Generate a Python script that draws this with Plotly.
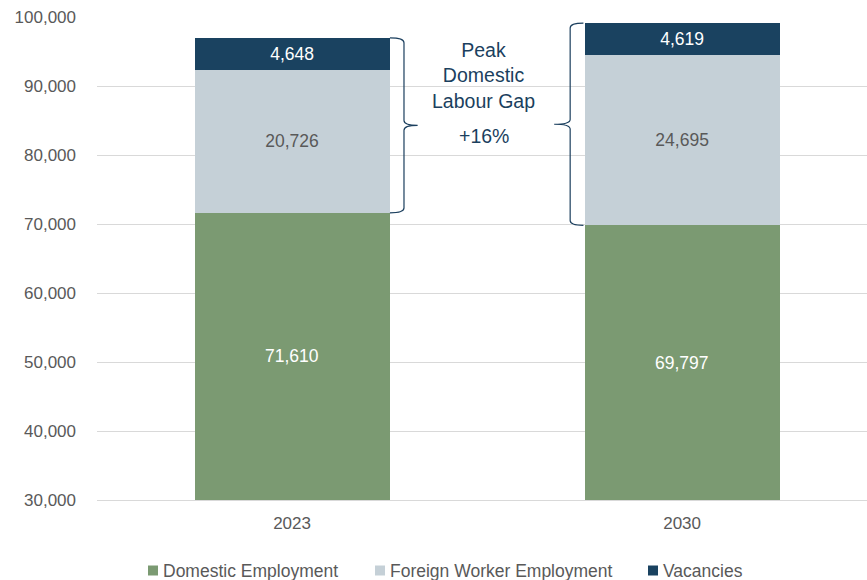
import plotly.graph_objects as go

# Workforce composition by year
years = ["2023", "2030"]
domestic = [71610, 69797]
foreign = [20726, 24695]
vacancies = [4648, 4619]
series_names = ["Domestic Employment", "Foreign Worker Employment", "Vacancies"]
gap_label = "Peak<br>Domestic<br>Labour Gap"
growth_label = "+16%"

y_min, y_max = 30000, 100000
y_ticks = [30000, 40000, 50000, 60000, 70000, 80000, 90000, 100000]

GREEN = "#7b9a72"
LIGHT = "#c5d0d7"
NAVY = "#1a4260"
TEXT_NAVY = "#1b3f5e"
GREY = "#595959"
FONT = "Liberation Sans, Arial, sans-serif"

W, H = 867, 580
ML, MR, MT, MB = 97, 0, 17, 80
PW, PH = W - ML - MR, H - MT - MB

xpos = list(range(len(years)))

fig = go.Figure()
colors = [GREEN, LIGHT, NAVY]
text_colors = ["white", GREY, "white"]
for name, vals, color, tcolor in zip(series_names, [domestic, foreign, vacancies],
                                     colors, text_colors):
    fig.add_trace(go.Bar(
        x=xpos, y=vals, name=name, width=0.5,
        marker=dict(color=color, line=dict(width=0)),
        texttemplate="%{y:,}",
        textposition="none" if vals is domestic else "inside",
        insidetextanchor="middle", textangle=0,
        textfont=dict(color=tcolor, size=17.5, family=FONT),
        showlegend=False,
    ))

# domestic labels centred on the visible part of the bottom segment
for xi, d in zip(xpos, domestic):
    fig.add_annotation(x=xi, y=(y_min + d) / 2, xref="x", yref="y",
                       text=f"{d:,}", showarrow=False,
                       font=dict(size=17.5, color="white", family=FONT))


def brace_path(x_edge, x_line, x_tip, y_top, y_bot, ry):
    y_mid = (y_top + y_bot) / 2
    return (
        f"M {x_edge},{y_top} "
        f"Q {x_line},{y_top} {x_line},{y_top - ry} "
        f"L {x_line},{y_mid + ry} "
        f"Q {x_line},{y_mid} {x_tip},{y_mid} "
        f"Q {x_line},{y_mid} {x_line},{y_mid - ry} "
        f"L {x_line},{y_bot + ry} "
        f"Q {x_line},{y_bot} {x_edge},{y_bot}"
    )


tot = [d + f + v for d, f, v in zip(domestic, foreign, vacancies)]
# brace spanning the non-domestic part of each bar
fig.add_shape(type="path", xref="x", yref="y",
              path=brace_path(0.251, 0.287, 0.322, tot[0], domestic[0], 700),
              line=dict(color=TEXT_NAVY, width=1.2))
fig.add_shape(type="path", xref="x", yref="y",
              path=brace_path(0.747, 0.713, 0.672, tot[1], domestic[1], 700),
              line=dict(color=TEXT_NAVY, width=1.2))

fig.add_annotation(x=0.492, y=91550, xref="x", yref="y", text=gap_label,
                   showarrow=False, font=dict(size=19.5, color=TEXT_NAVY, family=FONT),
                   align="center")
fig.add_annotation(x=0.492, y=82800, xref="x", yref="y", text=growth_label,
                   showarrow=False, font=dict(size=19.5, color=TEXT_NAVY, family=FONT),
                   align="center")


# legend drawn below the plot
def px_to_paper(px, py):
    return (px - ML) / PW, (H - MB - py) / PH


legend_x = [148, 375, 648]
legend_y = 570.5
for lx, name, color in zip(legend_x, series_names, colors):
    x0, y0 = px_to_paper(lx, legend_y + 5)
    x1, y1 = px_to_paper(lx + 10, legend_y - 5)
    fig.add_shape(type="rect", xref="paper", yref="paper",
                  x0=x0, y0=y0, x1=x1, y1=y1,
                  fillcolor=color, line=dict(width=0))
    tx, ty = px_to_paper(lx + 13, legend_y)
    fig.add_annotation(x=tx, y=ty, xref="paper", yref="paper", text=name,
                       showarrow=False, xanchor="left", yanchor="middle",
                       font=dict(size=17.5, color=GREY, family=FONT))

fig.update_layout(
    width=W, height=H,
    margin=dict(l=ML, r=MR, t=MT, b=MB, autoexpand=False),
    barmode="stack",
    plot_bgcolor="white", paper_bgcolor="white",
    font=dict(family=FONT, color=GREY, size=17),
    showlegend=False,
)
fig.update_xaxes(
    range=[-0.5, 1.474], tickvals=xpos, ticktext=years,
    showgrid=False, zeroline=False, showline=True, linecolor="#d9d9d9", linewidth=1,
    ticks="", ticklabelstandoff=8, tickfont=dict(size=17, color=GREY),
)
fig.update_yaxes(
    range=[y_min, y_max], tickvals=y_ticks, tickformat=",",
    showgrid=True, gridcolor="#d9d9d9", gridwidth=1, zeroline=False,
    ticks="", ticklabelstandoff=20, tickfont=dict(size=17, color=GREY),
)

fig.write_html("out.html")
